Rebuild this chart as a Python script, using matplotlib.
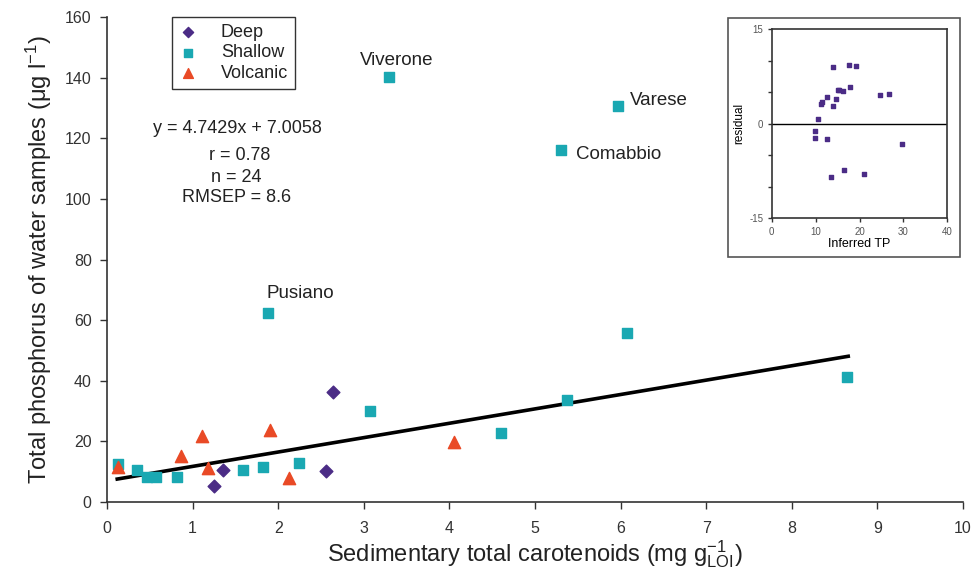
import matplotlib
matplotlib.use("Agg")
import matplotlib.pyplot as plt
from matplotlib.patches import Rectangle

plt.rcParams['font.family'] = ['Liberation Sans', 'DejaVu Sans']
plt.rcParams['mathtext.default'] = 'regular'
plt.rcParams['axes.unicode_minus'] = False

# -----------------------------
# Data
# -----------------------------
deep_x = [1.25, 1.36, 2.56, 2.64]
deep_y = [5.4, 10.6, 10.2, 36.4]

shallow_x = [3.29, 5.97, 5.30, 1.88, 6.07, 8.64, 3.07, 5.37, 4.60, 2.24,
             1.82, 1.59, 0.13, 0.35, 0.47, 0.57, 0.82]
shallow_y = [140.3, 130.7, 116.2, 62.4, 55.8, 41.3, 30.0, 33.7, 22.8, 12.9,
             11.6, 10.6, 12.5, 10.6, 8.4, 8.4, 8.4]

volcanic_x = [0.13, 0.86, 1.11, 1.18, 1.91, 2.13, 4.05]
volcanic_y = [11.5, 15.2, 21.8, 11.1, 23.8, 7.8, 19.9]

slope, intercept = 4.7429, 7.0058
fit_range = [0.12, 8.66]

lake_names = ["Viverone", "Varese", "Comabbio", "Pusiano"]
lake_label_xy = [(3.38, 145.6), (6.11, 132.4), (5.48, 114.8), (1.86, 68.9)]
lake_label_ha = ["center", "left", "left", "left"]

stats_lines = ["y = 4.7429x + 7.0058", "r = 0.78", "n = 24", "RMSEP = 8.6"]
stats_xy = [(1.52, 123.1), (1.55, 114.2), (1.51, 107.2), (1.51, 100.3)]

# inset: residuals vs inferred TP
inferred_tp = [14.0, 17.5, 19.1, 15.4, 16.2, 17.8, 15.0, 12.5, 14.7, 11.4,
               11.2, 13.9, 24.6, 26.7, 10.6, 9.8, 9.8, 12.5, 29.7, 16.5,
               21.0, 13.4]
residual = [9.0, 9.3, 9.1, 5.4, 5.2, 5.8, 5.4, 4.3, 3.9, 3.4,
            3.1, 2.75, 4.5, 4.65, 0.7, -1.1, -2.2, -2.4, -3.3, -7.3,
            -8.0, -8.45]

c_deep = "#4b2c86"
c_shallow = "#1aa8b2"
c_volc = "#e94a26"
tick_col = "#333333"
text_col = "#222222"

# -----------------------------
# Main chart
# -----------------------------
fig = plt.figure(figsize=(9.76, 5.71), dpi=100)
ax = fig.add_axes([0.1096, 0.1208, 0.877, 0.8494])

ax.scatter(deep_x, deep_y, marker='D', s=42, color=c_deep, label="Deep", zorder=3)
ax.scatter(shallow_x, shallow_y, marker='s', s=50, color=c_shallow, label="Shallow", zorder=3)
ax.scatter(volcanic_x, volcanic_y, marker='^', s=78, color=c_volc, label="Volcanic", zorder=3)
ax.plot(fit_range, [slope * v + intercept for v in fit_range], color='black', lw=2.6, zorder=2)

for name, (tx, ty), ha in zip(lake_names, lake_label_xy, lake_label_ha):
    ax.text(tx, ty, name, ha=ha, va='center', fontsize=13.5, color=text_col)

for line, (tx, ty) in zip(stats_lines, stats_xy):
    ax.text(tx, ty, line, ha='center', va='center', fontsize=13, color=text_col)

ax.set_xlim(0, 10)
ax.set_ylim(0, 160)
ax.set_xticks(range(0, 11))
ax.set_yticks(range(0, 161, 20))
ax.spines['top'].set_visible(False)
ax.spines['right'].set_visible(False)
for s in ['left', 'bottom']:
    ax.spines[s].set_color('#333333')
    ax.spines[s].set_linewidth(1.2)
ax.tick_params(direction='out', length=5, width=1, colors='#333333',
               labelsize=11.5, labelcolor=tick_col, pad=6)
ax.tick_params(axis='x', pad=9)
ax.set_xlabel(r"Sedimentary total carotenoids (mg g$^{-1}_{LOI}$)", fontsize=17, color=text_col, labelpad=1)
ax.set_ylabel(r"Total phosphorus of water samples ($\mu$g l$^{-1}$)", fontsize=17, color=text_col, labelpad=8)

leg = ax.legend(loc='upper left', bbox_to_anchor=(0.076, 1.0), fontsize=13,
                frameon=True, fancybox=False, borderpad=0.4, handletextpad=1.3,
                labelspacing=0.18, handlelength=1.0, borderaxespad=0, markerscale=0.8)
leg.get_frame().set_edgecolor('black')
leg.get_frame().set_linewidth(1.0)
for t in leg.get_texts():
    t.set_color(text_col)

# -----------------------------
# Inset
# -----------------------------
fig.patches.append(Rectangle((0.7456, 0.5499), 0.238, 0.4191, transform=fig.transFigure,
                             fill=True, facecolor='white', edgecolor='#555555', lw=1.2, zorder=5))
ins = fig.add_axes([0.7907, 0.6177, 0.1799, 0.3315], zorder=6)
ins.scatter(inferred_tp, residual, marker='s', s=5, color=c_deep, zorder=3)
ins.axhline(0, color='black', lw=1.0)
ins.set_xlim(0, 40)
ins.set_ylim(-15, 15)
ins.set_xticks([0, 10, 20, 30, 40])
ins.set_yticks([-15, 0, 15])
ins.set_yticks([-10, -5, 5, 10], minor=True)
for s in ins.spines.values():
    s.set_color('#333333')
    s.set_linewidth(1.2)
ins.tick_params(direction='out', length=3, width=1, colors='#333333',
                labelsize=7, labelcolor='#555555', pad=3)
ins.tick_params(which='minor', direction='out', length=3, width=1, colors='#333333')
ins.set_xlabel("Inferred TP", fontsize=9, labelpad=1)
ins.set_ylabel("residual", fontsize=8.5, labelpad=3)

fig.savefig("out.png", dpi=100)
